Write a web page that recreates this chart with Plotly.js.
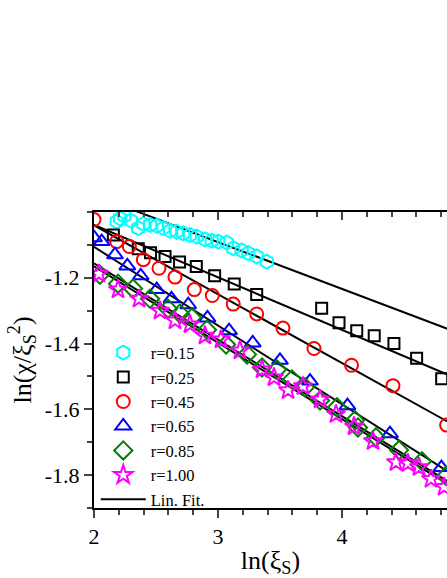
<!DOCTYPE html>
<html>
<head>
<meta charset="utf-8">
<script src="https://cdn.plot.ly/plotly-3.0.1.min.js"></script>
<style>
  html, body { margin: 0; padding: 0; background: #fff; }
  #plot { width: 447px; height: 578px; }
</style>
</head>
<body>
<div id="plot"></div>
<script>
// data: ln(xi_S) vs ln(chi/xi_S^2)
var x015 = [2.183, 2.210, 2.244, 2.298, 2.357, 2.398, 2.452, 2.506, 2.559, 2.613, 2.667, 2.720, 2.774, 2.828, 2.895, 2.949, 3.002, 3.070, 3.123, 3.191, 3.244, 3.312, 3.393];
var y015 = [-1.029, -1.019, -1.012, -1.026, -1.049, -1.036, -1.039, -1.042, -1.049, -1.057, -1.060, -1.065, -1.070, -1.075, -1.083, -1.087, -1.090, -1.093, -1.110, -1.117, -1.125, -1.135, -1.151];

var x025 = [2.156, 2.357, 2.456, 2.573, 2.690, 2.825, 2.973, 3.131, 3.312, 3.836, 3.976, 4.119, 4.260, 4.419, 4.602, 4.804];
var y025 = [-1.070, -1.112, -1.124, -1.135, -1.152, -1.166, -1.194, -1.219, -1.251, -1.293, -1.337, -1.361, -1.376, -1.400, -1.445, -1.507];

var x045 = [2.000, 2.183, 2.285, 2.398, 2.524, 2.653, 2.809, 2.954, 3.123, 3.312, 3.524, 3.774, 4.077, 4.411, 4.844];
var y045 = [-1.023, -1.090, -1.105, -1.145, -1.171, -1.198, -1.236, -1.254, -1.280, -1.310, -1.353, -1.415, -1.466, -1.528, -1.648];

var x065 = [2.000, 2.062, 2.169, 2.269, 2.377, 2.506, 2.625, 2.760, 2.915, 3.089, 3.280, 3.500, 3.742, 4.044, 4.387, 4.802];
var y065 = [-1.078, -1.090, -1.130, -1.164, -1.194, -1.236, -1.264, -1.282, -1.322, -1.361, -1.398, -1.451, -1.514, -1.589, -1.674, -1.777];

var x085 = [2.048, 2.194, 2.315, 2.452, 2.597, 2.694, 2.790, 2.911, 3.065, 3.234, 3.355, 3.476, 3.597, 3.702, 3.823, 3.960, 4.105, 4.129, 4.274, 4.460, 4.645, 4.839];
var y085 = [-1.191, -1.218, -1.233, -1.264, -1.294, -1.309, -1.321, -1.358, -1.403, -1.433, -1.473, -1.479, -1.509, -1.533, -1.573, -1.594, -1.633, -1.655, -1.685, -1.724, -1.758, -1.803];

var x100 = [2.040, 2.194, 2.363, 2.532, 2.653, 2.774, 2.895, 3.024, 3.177, 3.355, 3.452, 3.565, 3.685, 3.823, 3.952, 4.097, 4.250, 4.435, 4.532, 4.621, 4.718, 4.823];
var y100 = [-1.188, -1.236, -1.264, -1.300, -1.330, -1.342, -1.376, -1.388, -1.421, -1.479, -1.503, -1.542, -1.530, -1.570, -1.615, -1.652, -1.697, -1.761, -1.764, -1.776, -1.812, -1.836];

// linear fits, end points read at the two plot edges
var fitX = [2.0, 4.85];
var fit015 = [-0.949, -1.355];
var fit025 = [-1.039, -1.494];
var fit045 = [-1.041, -1.637];
var fit065 = [-1.106, -1.788];
var fit085 = [-1.156, -1.818];
var fit100 = [-1.165, -1.827];

var font = 'Liberation Serif, Times New Roman, serif';

function pts(name, xs, ys, symbol, color, size) {
    return {
        x: xs, y: ys, name: name,
        mode: 'markers', type: 'scatter',
        marker: { symbol: symbol, size: size, color: color, line: { color: color, width: 2 } }
    };
}

function fit(ys, show) {
    return {
        x: fitX, y: ys, name: 'Lin. Fit.',
        mode: 'lines', type: 'scatter',
        line: { color: 'black', width: 2 },
        showlegend: show, legendrank: 2000
    };
}

var data = [
    fit(fit015, false), fit(fit025, false), fit(fit045, false),
    fit(fit065, false), fit(fit085, false), fit(fit100, true),
    pts('r=0.15', x015, y015, 'hexagon-open', '#00ffff', 14),
    pts('r=0.25', x025, y025, 'square-open', 'black', 11),
    pts('r=0.45', x045, y045, 'circle-open', '#ff0000', 13),
    pts('r=0.65', x065, y065, 'triangle-up-open', '#0000ff', 14),
    pts('r=0.85', x085, y085, 'diamond-open', '#008000', 14),
    pts('r=1.00', x100, y100, 'star-open', '#ff00ff', 14),
    { x: [], y: [], xaxis: 'x2', showlegend: false, type: 'scatter' }
];

var layout = {
    width: 447,
    height: 578,
    margin: { l: 94, r: 0, t: 212, b: 70 },
    paper_bgcolor: 'white',
    plot_bgcolor: 'white',
    font: { family: font, color: 'black', size: 22 },
    showlegend: true,
    legend: {
        x: 0.005, y: 0.583, xanchor: 'left', yanchor: 'top',
        bgcolor: 'rgba(0,0,0,0)',
        font: { family: font, size: 16.5, color: 'black' },
        itemwidth: 45,
        tracegroupgap: 0
    },
    xaxis: {
        range: [2, 4.847],
        tickvals: [2, 3, 4],
        ticks: 'outside', ticklen: 8, tickwidth: 2,
        minor: { dtick: 0.2, tick0: 2, ticks: 'outside', ticklen: 5, tickwidth: 2 },
        showline: true, linewidth: 2, linecolor: 'black',
        showgrid: false, zeroline: false,
        tickfont: { family: font, size: 22 },
        title: { text: 'ln(ξ<sub>S</sub>)', font: { family: font, size: 26 } }
    },
    xaxis2: {
        overlaying: 'x', side: 'top', anchor: 'y',
        range: [2, 4.847],
        tickvals: [2, 3, 4],
        ticks: 'inside', ticklen: 8, tickwidth: 2,
        minor: { dtick: 0.2, tick0: 2, ticks: 'inside', ticklen: 5, tickwidth: 2 },
        showticklabels: false,
        showline: true, linewidth: 2, linecolor: 'black',
        showgrid: false, zeroline: false
    },
    yaxis: {
        range: [-1.9, -1.0],
        tickvals: [-1.8, -1.6, -1.4, -1.2],
        ticktext: ['-1.8', '-1.6', '-1.4', '-1.2'],
        ticks: 'outside', ticklen: 8, tickwidth: 2,
        minor: { dtick: 0.1, tick0: -1.9, ticks: 'outside', ticklen: 5, tickwidth: 2 },
        showline: true, linewidth: 2, linecolor: 'black',
        showgrid: false, zeroline: false,
        tickfont: { family: font, size: 22 },
        title: { text: 'ln(χ/ξ<sub>S</sub><sup>2</sup>)', font: { family: font, size: 26 } }
    }
};

Plotly.newPlot('plot', data, layout, { displayModeBar: false, staticPlot: true });
</script>
</body>
</html>
